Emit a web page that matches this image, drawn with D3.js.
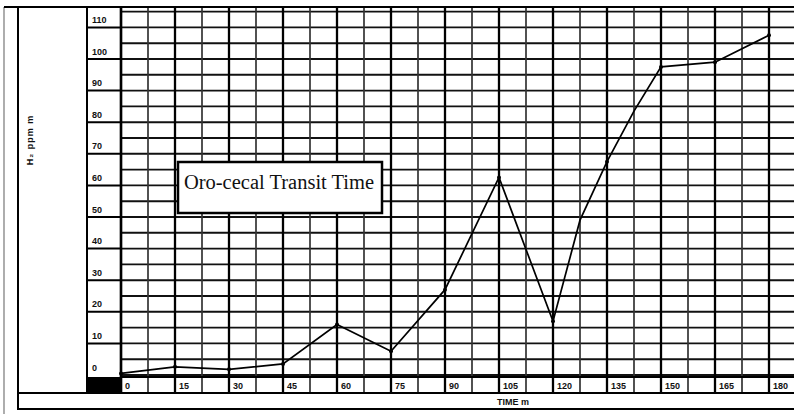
<!DOCTYPE html>
<html>
<head>
<meta charset="utf-8">
<style>
    body { margin: 0; background: #fff; }
    svg { display: block; }
    .tick-label { font-family: "Liberation Sans", Arial, sans-serif; font-size: 9px; font-weight: bold; fill: #111; }
    .title-box text { font-family: "Liberation Serif", "Times New Roman", serif; font-size: 20.5px; fill: #111; }
</style>
</head>
<body>
<svg width="794" height="414"></svg>

<script src="https://d3js.org/d3.v7.min.js"></script>
<script>
    // values (time in minutes, H2 in ppm)
    let timeMin = [0, 15, 30, 45, 60, 75, 90, 105, 120, 127.5, 135, 142.5, 150, 165, 180]
    let h2ppm = [0.5, 2.6, 1.8, 3.5, 16, 7.5, 27, 62.5, 17, 49, 67.5, 83.5, 97.5, 99, 107.5]

    let xTicks = [0, 15, 30, 45, 60, 75, 90, 105, 120, 135, 150, 165, 180]
    let yTicks = [0, 10, 20, 30, 40, 50, 60, 70, 80, 90, 100, 110]

    let data = timeMin.map((t, i) => ({ t: t, v: h2ppm[i] }))

    let W = 794, H = 414
    let frameTop = 7, labelColL = 87, rowBottom = 392

    let svg = d3.select("svg")

    let x = d3.scaleLinear().domain([0, 180]).range([121, 769])
    let y = d3.scaleLinear().domain([0, 110]).range([375, 27.4])

    let plotLeft = x(0)

    // grid - horizontal every 5 units
    let hLines = d3.range(0, 116, 5)
    svg.append("g")
        .selectAll("line")
        .data(hLines)
        .join("line")
        .attr("x1", plotLeft).attr("x2", W)
        .attr("y1", d => y(d)).attr("y2", d => y(d))
        .attr("stroke", "#111")
        .attr("stroke-width", 1.9)

    // grid - vertical every 7.5 units
    let vLines = d3.range(0, 181, 7.5)
    svg.append("g")
        .selectAll("line")
        .data(vLines)
        .join("line")
        .attr("x1", d => x(d)).attr("x2", d => x(d))
        .attr("y1", frameTop).attr("y2", rowBottom)
        .attr("stroke", d => d % 15 === 0 ? "#000" : "#333")
        .attr("stroke-width", d => d % 15 === 0 ? 2.3 : 1.7)

    // frame lines
    let frame = svg.append("g").attr("stroke", "#000")
    frame.append("line").attr("x1", 4).attr("x2", 4).attr("y1", frameTop).attr("y2", H)
        .attr("stroke", "#777").attr("stroke-width", 1.2)
    frame.append("line").attr("x1", 18).attr("x2", 18).attr("y1", frameTop).attr("y2", 410).attr("stroke-width", 2)
    frame.append("line").attr("x1", 4).attr("x2", W).attr("y1", frameTop).attr("y2", frameTop).attr("stroke-width", 2)
    frame.append("line").attr("x1", labelColL).attr("x2", labelColL).attr("y1", frameTop).attr("y2", rowBottom).attr("stroke-width", 2)
    frame.append("line").attr("x1", plotLeft).attr("x2", plotLeft).attr("y1", frameTop).attr("y2", rowBottom).attr("stroke-width", 2.4)
    frame.append("line").attr("x1", 18).attr("x2", W).attr("y1", 393).attr("y2", 393).attr("stroke-width", 2)
    frame.append("line").attr("x1", 18).attr("x2", W).attr("y1", 409).attr("y2", 409).attr("stroke-width", 2)
    frame.append("line").attr("x1", plotLeft).attr("x2", W).attr("y1", 377).attr("y2", 377).attr("stroke-width", 2)

    // y label column separators
    svg.append("g")
        .selectAll("line")
        .data(yTicks.filter(d => d > 0))
        .join("line")
        .attr("x1", labelColL).attr("x2", plotLeft)
        .attr("y1", d => y(d)).attr("y2", d => y(d))
        .attr("stroke", "#000").attr("stroke-width", 2)

    // black box in the corner
    svg.append("rect")
        .attr("x", labelColL).attr("y", 377)
        .attr("width", plotLeft - labelColL).attr("height", rowBottom - 377)
        .attr("fill", "#000")

    // y tick labels
    svg.append("g")
        .selectAll("text")
        .data(yTicks)
        .join("text")
        .attr("class", "tick-label")
        .attr("x", labelColL + 5)
        .attr("y", d => y(d) - 4.5)
        .text(d => d)

    // x tick labels
    svg.append("g")
        .selectAll("text")
        .data(xTicks)
        .join("text")
        .attr("class", "tick-label")
        .attr("x", d => x(d) + 4)
        .attr("y", 388.5)
        .text(d => d)

    // axis titles
    svg.append("text")
        .attr("class", "tick-label")
        .attr("x", 497).attr("y", 405)
        .text("TIME m")

    svg.append("text")
        .attr("class", "tick-label")
        .attr("transform", "translate(33,140) rotate(-90)")
        .attr("text-anchor", "middle")
        .style("letter-spacing", "1px")
        .text("H₂ ppm m")

    // the curve
    let line = d3.line()
        .x(d => x(d.t))
        .y(d => y(d.v))

    svg.append("path")
        .datum(data)
        .attr("d", line)
        .attr("fill", "none")
        .attr("stroke", "#000")
        .attr("stroke-width", 1.7)

    svg.append("g")
        .selectAll("circle")
        .data(data.filter(d => d.t % 15 === 0))
        .join("circle")
        .attr("cx", d => x(d.t))
        .attr("cy", d => y(d.v))
        .attr("r", 2)
        .attr("fill", "#000")

    // title box
    let box = svg.append("g").attr("class", "title-box")
    box.append("rect")
        .attr("x", 178).attr("y", 162)
        .attr("width", 204).attr("height", 51)
        .attr("fill", "#fff")
        .attr("stroke", "#000")
        .attr("stroke-width", 2.5)
    box.append("text")
        .attr("x", 279).attr("y", 189)
        .attr("text-anchor", "middle")
        .text("Oro-cecal Transit Time")
</script>
</body>
</html>
